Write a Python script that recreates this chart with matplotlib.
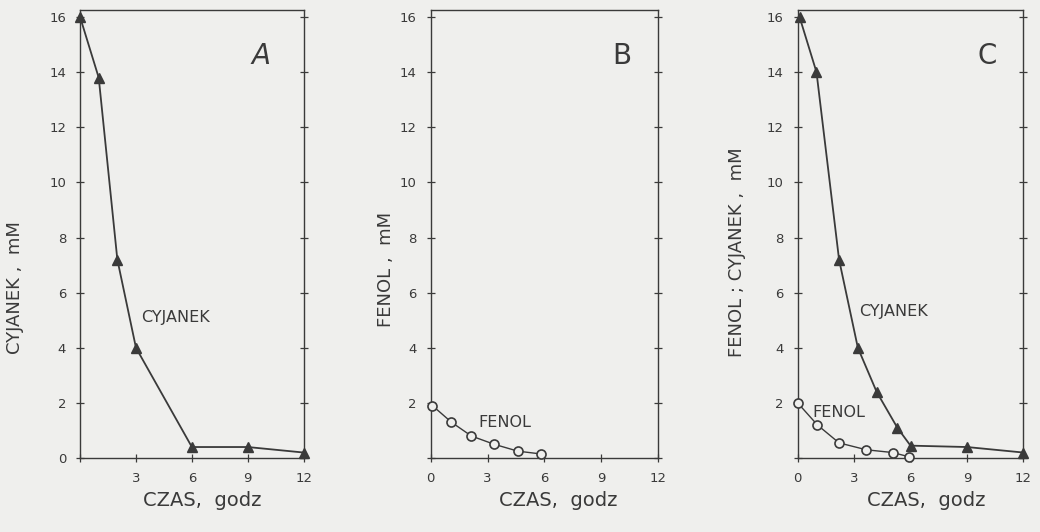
import matplotlib.pyplot as plt

# Data
# panel A: cyanide only
czas_a = [0, 1, 2, 3, 6, 9, 12]
cyjanek_a = [16.0, 13.8, 7.2, 4.0, 0.4, 0.4, 0.2]

# panel B: phenol only
czas_b = [0.1, 1.1, 2.15, 3.35, 4.6, 5.8]
fenol_b = [1.9, 1.3, 0.8, 0.5, 0.25, 0.15]

# panel C: phenol + cyanide together
czas_c_cyj = [0.1, 1.0, 2.2, 3.2, 4.2, 5.3, 6.0, 9.0, 12.0]
cyjanek_c = [16.0, 14.0, 7.2, 4.0, 2.4, 1.1, 0.45, 0.4, 0.2]
czas_c_fen = [0.0, 1.05, 2.2, 3.65, 5.05, 5.9]
fenol_c = [2.0, 1.2, 0.55, 0.3, 0.2, 0.05]

x_ticks = [0, 3, 6, 9, 12]
y_ticks = [0, 2, 4, 6, 8, 10, 12, 14, 16]

bg = '#efefed'
ink = '#3a3a3a'

fig = plt.figure(figsize=(10.4, 5.32), dpi=100, facecolor=bg)
ax_a = fig.add_axes([0.077, 0.139, 0.215, 0.842])
ax_b = fig.add_axes([0.414, 0.139, 0.219, 0.842])
ax_c = fig.add_axes([0.767, 0.139, 0.217, 0.842])


def style(ax, show_x0, show_y0, xlab_x, ylab, ylab_xy):
    ax.set_facecolor(bg)
    ax.set_xlim(0, 12)
    ax.set_ylim(0, 16.25)
    ax.set_xticks(x_ticks)
    ax.set_yticks(y_ticks)
    ax.set_xticklabels([('0' if show_x0 else '') if t == 0 else str(t) for t in x_ticks])
    ax.set_yticklabels([('0' if show_y0 else '') if t == 0 else str(t) for t in y_ticks])
    ax.tick_params(direction='inout', length=6, width=0.9, colors=ink,
                   labelsize=9.5, right=True, pad=7)
    for s in ax.spines.values():
        s.set_color(ink)
        s.set_linewidth(1.0)
    ax.set_xlabel('CZAS,  godz', fontsize=14, color=ink)
    ax.xaxis.set_label_coords(xlab_x, -0.094)
    ax.xaxis.label.set_va('center')
    ax.set_ylabel(ylab, fontsize=13, color=ink)
    ax.yaxis.set_label_coords(*ylab_xy)
    ax.yaxis.label.set_va('center')


def cyj(ax, x, y):
    ax.plot(x, y, color=ink, lw=1.3, marker='^', ms=7.5, mfc=ink, mec=ink,
            clip_on=False, zorder=3)


def fen(ax, x, y):
    ax.plot(x, y, color=ink, lw=1.0, marker='o', ms=6.5, mfc=bg, mec=ink,
            mew=1.2, clip_on=False, zorder=3)


# A
cyj(ax_a, czas_a, cyjanek_a)
style(ax_a, False, True, 0.545, 'CYJANEK ,  mM', (-0.29, 0.38))
ax_a.text(5.1, 5.1, 'CYJANEK', fontsize=11.5, color=ink, ha='center', va='center')
ax_a.text(9.7, 14.6, 'A', fontsize=20, color=ink, style='italic', ha='center', va='center')

# B
fen(ax_b, czas_b, fenol_b)
style(ax_b, True, False, 0.56, 'FENOL ,  mM', (-0.197, 0.42))
ax_b.text(3.9, 1.3, 'FENOL', fontsize=11.5, color=ink, ha='center', va='center')
ax_b.text(10.1, 14.6, 'B', fontsize=20, color=ink, ha='center', va='center')

# C
cyj(ax_c, czas_c_cyj, cyjanek_c)
fen(ax_c, czas_c_fen, fenol_c)
style(ax_c, True, False, 0.57, 'FENOL ; CYJANEK ,  mM', (-0.27, 0.46))
ax_c.text(5.1, 5.3, 'CYJANEK', fontsize=11.5, color=ink, ha='center', va='center')
ax_c.text(2.2, 1.65, 'FENOL', fontsize=11.5, color=ink, ha='center', va='center')
ax_c.text(10.1, 14.6, 'C', fontsize=20, color=ink, ha='center', va='center')

fig.savefig('out.png', dpi=100, facecolor=bg)
